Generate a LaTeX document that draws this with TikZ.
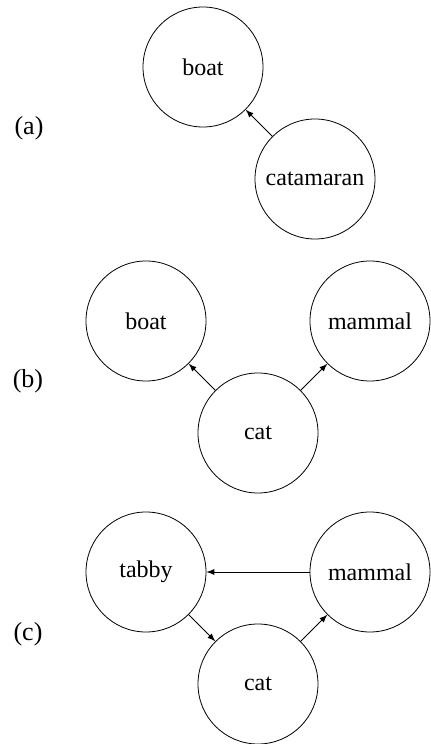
\documentclass[tikz,border=0pt]{standalone}
\usepackage{fontspec}
\setmainfont{Liberation Serif}
\usetikzlibrary{positioning}

\begin{document}
\begin{tikzpicture}[x=0.5pt, y=-0.5pt, node distance=56pt and 56pt, on grid, >=latex,
  font=\fontsize{12pt}{14pt}\selectfont,
  word/.style={circle, draw, thin, minimum size=60pt, inner sep=0pt},
  tag/.style={font=\fontsize{13pt}{15pt}\selectfont}]
  \useasboundingbox (0,0) rectangle (430,744);
  % (a)
  \node(taga)[tag] at (29,128) {(a)};
  \node(boata)[word] at (203,67) {boat};
  \node(catamaran)[word, below right=of boata] {catamaran};
  \draw[->, thin] (catamaran) -- (boata);
  % (b)
  \node(tagb)[tag] at (28,381) {(b)};
  \node(boatb)[word] at (146,321) {boat};
  \node(catb)[word, below right=of boatb] {cat};
  \node(mammalb)[word, above right=of catb] {mammal};
  \draw[->, thin] (catb) -- (boatb);
  \draw[->, thin] (catb) -- (mammalb);
  % (c)
  \node(tagc)[tag] at (28,634) {(c)};
  \node(tabby)[word] at (146,572) {tabby};
  \node(catc)[word, below right=of tabby] {cat};
  \node(mammalc)[word, above right=of catc] {mammal};
  \draw[->, thin] (tabby) -- (catc);
  \draw[->, thin] (catc) -- (mammalc);
  \draw[->, thin] (mammalc) -- (tabby);
\end{tikzpicture}
\end{document}
